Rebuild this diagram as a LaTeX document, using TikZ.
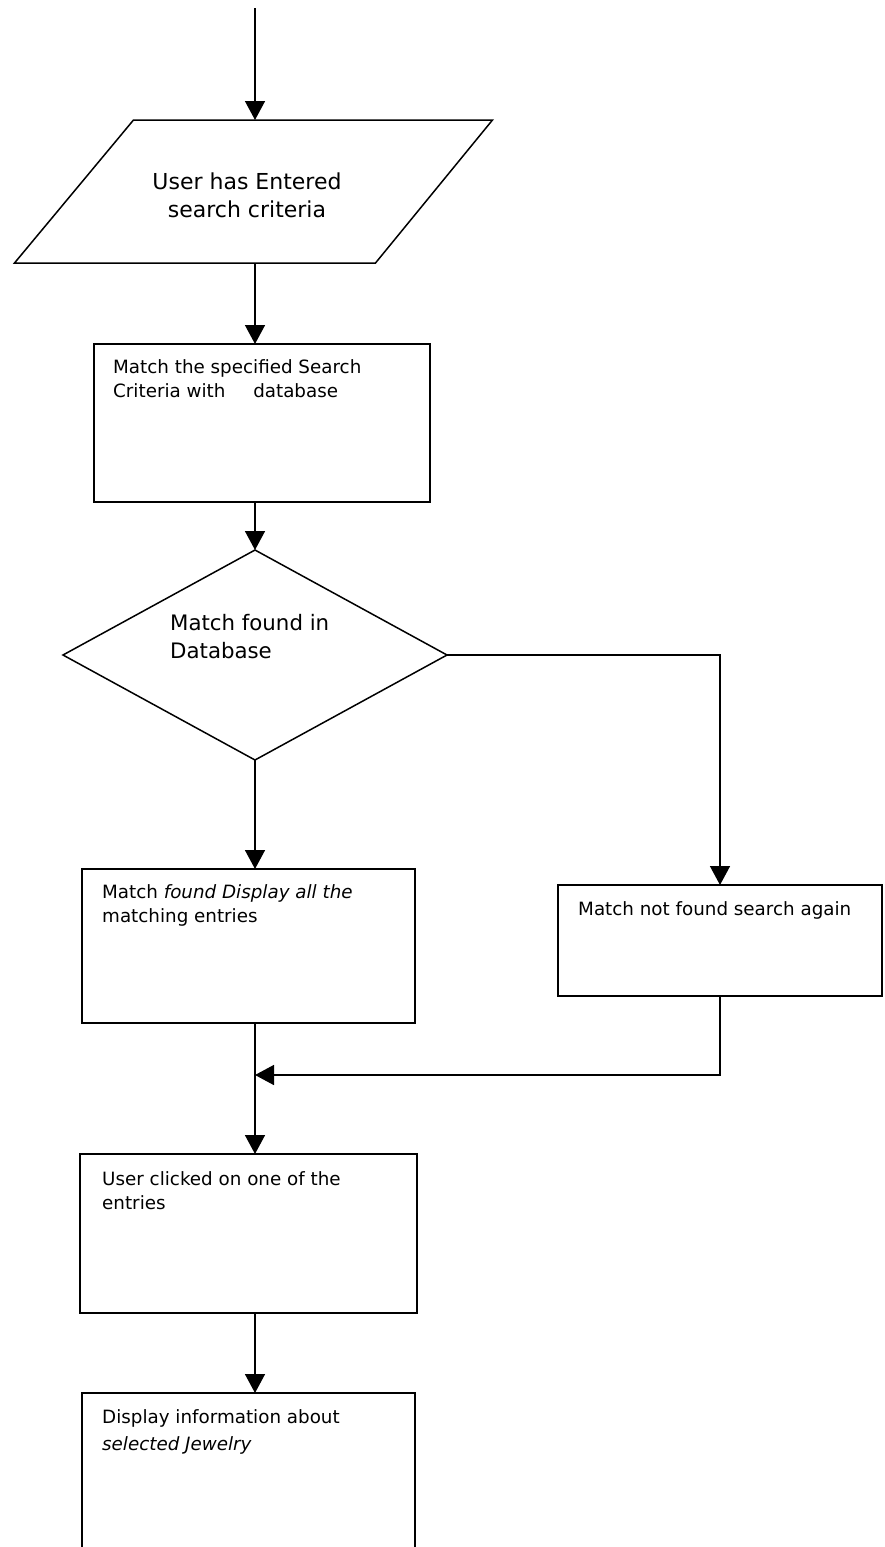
\documentclass[tikz,border=0pt]{standalone}
\usepackage{fontspec}
\setmainfont{DejaVu Sans}
\usetikzlibrary{shapes.geometric,arrows.meta,calc}
\begin{document}
\begin{tikzpicture}[x=1pt,y=-1pt,
  flow/.style={draw, line width=1.5pt, -{Triangle[width=20pt,length=19pt]}},
  link/.style={draw, line width=1.5pt},
  stepbox/.style={draw, rectangle, line width=1.5pt, inner sep=0pt, outer sep=0pt},
  boxtext/.style={anchor=north west, inner sep=0pt, align=left, font=\fontsize{18.3}{24}\selectfont},
  bigtext/.style={inner sep=0pt, align=center, font=\fontsize{22}{28}\selectfont}]

\useasboundingbox (0,0) rectangle (884,1547);
\fill[white] (0,0) rectangle (884,1547);
\clip (0,0) rectangle (884,1547);

% entry point of the flow
\coordinate (start) at (255,8);

% input: search criteria (slanted data shape drawn inside its frame node)
\node[rectangle, minimum width=478pt, minimum height=143pt, inner sep=0pt, outer sep=0pt]
      (input) at (253.5,191.5) {};
\draw[line width=1.5pt, line join=miter]
  ($(input.north west)+(119,0)$) -- (input.north east)
  -- ($(input.south east)-(117,0)$) -- (input.south west) -- cycle;
\node[bigtext] (inputtext) at (247,195) {User has Entered\\search criteria};

% matching step
\node[stepbox, minimum width=336pt, minimum height=158pt] (match) at (262,423) {};
\node[boxtext] (matchtext) at (113,359)
  {Match the specified Search\\Criteria with \hspace{1.2em}database};

% decision
\node[diamond, draw, line width=1.5pt, minimum width=384pt, minimum height=210pt,
      inner sep=0pt, outer sep=0pt] (dec) at (255,655) {};
\node[anchor=north west, inner sep=0pt, align=left,
      font=\fontsize{21.3}{28}\selectfont] (dectext) at (170,614)
  {Match found in\\Database};

% found branch
\node[stepbox, minimum width=333pt, minimum height=154pt] (found) at (248.5,946) {};
\node[boxtext] (foundtext) at (102,884)
  {Match \textit{found Display all the}\\matching entries};

% not found branch
\node[stepbox, minimum width=324pt, minimum height=111pt] (notf) at (720,940.5) {};
\node[boxtext] (notftext) at (578,901) {Match not found search again};

% selection
\node[stepbox, minimum width=337pt, minimum height=159pt] (click) at (248.5,1233.5) {};
\node[boxtext] (clicktext) at (102,1171) {User clicked on one of the\\entries};

% details
\node[stepbox, minimum width=333pt, minimum height=200pt] (disp) at (248.5,1493) {};
\node[boxtext] (disptext) at (102,1409)
  {Display information about\\[3pt]\textit{selected Jewelry}};

% junction where both branches meet
\coordinate (join) at (255,1075);

% connectors
\draw[flow] (start) -- (start |- input.north);
\draw[flow] (start |- input.south) -- (start |- match.north);
\draw[flow] (start |- match.south) -- (dec.north);
\draw[flow] (dec.south) -- (start |- found.north);
\draw[flow] (dec.east) -| (notf.north);
\draw[link] (start |- found.south) -- (join);
\draw[flow] (notf.south) |- (join);
\draw[flow] (join) -- (start |- click.north);
\draw[flow] (start |- click.south) -- (start |- disp.north);
\end{tikzpicture}
\end{document}
